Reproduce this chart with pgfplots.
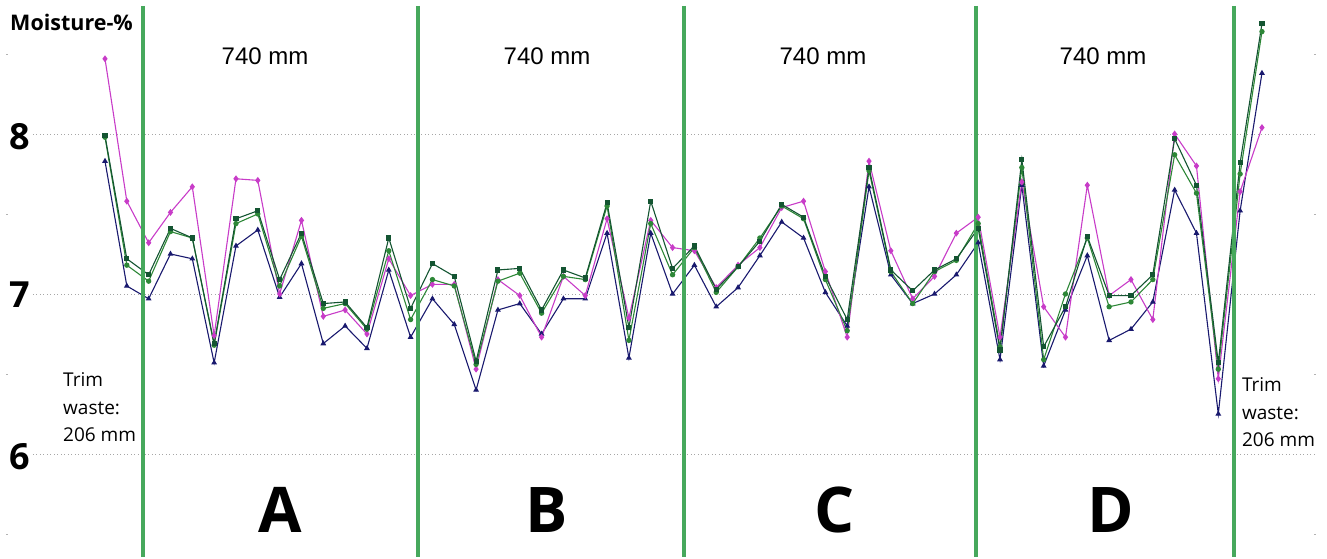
\documentclass[border=0pt]{standalone}
\usepackage{pgfplots}
\usepackage{pgfplotstable}
\pgfplotsset{compat=1.18}
\usepackage{fontspec}
\setmainfont{Open Sans}
\newfontfamily\arialf{Liberation Sans}
\definecolor{cmag}{RGB}{200,60,200}
\definecolor{csq}{RGB}{20,85,50}
\definecolor{ccirc}{RGB}{45,135,55}
\definecolor{cnav}{RGB}{25,25,110}
\definecolor{cvl}{RGB}{70,168,92}
\pgfplotstableread{
i mag sq circ nav
0 8.47 7.99 7.98 7.83
1 7.58 7.22 7.18 7.05
2 7.32 7.12 7.08 6.97
3 7.51 7.41 7.39 7.25
4 7.67 7.35 7.35 7.22
5 6.74 6.69 6.68 6.57
6 7.72 7.47 7.44 7.30
7 7.71 7.52 7.50 7.40
8 7.00 7.09 7.05 6.98
9 7.46 7.38 7.36 7.19
10 6.86 6.94 6.91 6.69
11 6.90 6.95 6.94 6.80
12 6.75 6.79 6.78 6.66
13 7.22 7.35 7.27 7.15
14 6.99 6.91 6.84 6.73
15 7.06 7.19 7.09 6.97
16 7.06 7.11 7.05 6.81
17 6.53 6.58 6.56 6.40
18 7.09 7.15 7.08 6.90
19 6.99 7.16 7.13 6.94
20 6.73 6.90 6.88 6.75
21 7.11 7.15 7.11 6.97
22 6.99 7.10 7.09 6.97
23 7.47 7.57 7.55 7.38
24 6.85 6.79 6.71 6.60
25 7.46 7.58 7.44 7.38
26 7.29 7.16 7.12 7.00
27 7.27 7.30 7.29 7.18
28 7.04 7.03 7.01 6.92
29 7.18 7.17 7.17 7.04
30 7.29 7.33 7.35 7.24
31 7.54 7.56 7.55 7.45
32 7.58 7.48 7.47 7.35
33 7.14 7.11 7.09 7.01
34 6.73 6.84 6.77 6.80
35 7.83 7.79 7.77 7.67
36 7.27 7.15 7.14 7.12
37 6.97 7.02 6.94 6.94
38 7.11 7.15 7.14 7.00
39 7.38 7.22 7.21 7.12
40 7.48 7.41 7.44 7.32
41 6.73 6.65 6.67 6.59
42 7.70 7.84 7.79 7.68
43 6.92 6.67 6.59 6.55
44 6.73 6.92 7.00 6.90
45 7.68 7.36 7.35 7.24
46 6.99 6.99 6.92 6.71
47 7.09 6.99 6.95 6.78
48 6.84 7.12 7.09 6.95
49 8.00 7.97 7.87 7.65
50 7.80 7.68 7.63 7.38
51 6.47 6.57 6.53 6.25
52 7.64 7.82 7.75 7.52
53 8.04 8.69 8.64 8.38
}\moist
\begin{document}
\begin{tikzpicture}
\begin{axis}[
  width=1327pt, height=557pt, scale only axis,
  xmin=-4.81, xmax=55.98, ymin=5.356, ymax=8.8375,
  axis lines=none, clip=false,
]
\path (rel axis cs:0,0) rectangle (rel axis cs:1,1);
% grid lines
\foreach \yy in {6,7,8}{
  \edef\tmp{\noexpand\draw[gray!70, line width=0.9pt, dash pattern=on 0.9pt off 2.6pt] (axis cs:-3.30,\yy) -- (axis cs:55.47,\yy);}\tmp
}
\foreach \yy in {5.5,6.5,7.5,8.5}{
  \edef\tmp{\noexpand\draw[gray!60, line width=0.9pt] (axis cs:-4.52,\yy) -- (axis cs:-4.44,\yy); \noexpand\draw[gray!60, line width=0.9pt] (axis cs:55.40,\yy) -- (axis cs:55.48,\yy);}\tmp
}
% data
\addplot[cnav, line width=1.1pt, mark=triangle*, mark size=2.3pt, mark options={solid}] table[x=i, y=nav] {\moist};
\addplot[cmag, line width=1.1pt, mark=diamond*, mark size=2.6pt, mark options={solid}] table[x=i, y=mag] {\moist};
\addplot[ccirc, line width=1.1pt, mark=*, mark size=2.1pt, mark options={solid}] table[x=i, y=circ] {\moist};
\addplot[csq, line width=1.1pt, mark=square*, mark size=2.0pt, mark options={solid}] table[x=i, y=sq] {\moist};
% vertical section lines
\foreach \xx in {1.754,14.35,26.52,39.90,51.72}{
  \edef\tmp{\noexpand\draw[cvl, line width=3.6pt] (axis cs:\xx,8.80) -- (axis cs:\xx,5.356);}\tmp
}
% texts
\node[anchor=west, inner sep=0pt, font=\bfseries\fontsize{21.5}{21.5}\selectfont] at (axis cs:-4.35,8.70) {Moisture-\%};
\node[anchor=base west, inner sep=0pt, font=\bfseries\fontsize{36}{36}\selectfont] at (axis cs:-4.40,7.90) {8};
\node[anchor=base west, inner sep=0pt, font=\bfseries\fontsize{36}{36}\selectfont] at (axis cs:-4.40,6.9125) {7};
\node[anchor=base west, inner sep=0pt, font=\bfseries\fontsize{36}{36}\selectfont] at (axis cs:-4.40,5.90) {6};
\foreach \xx in {7.33,20.25,32.89,45.72}{
  \edef\tmp{\noexpand\node[font=\noexpand\arialf\noexpand\fontsize{24}{24}\noexpand\selectfont] at (axis cs:\xx,8.4875) {740 mm};}\tmp
}
\node[anchor=base, inner sep=0pt, font=\bfseries\fontsize{63}{63}\selectfont] at (axis cs:8.02,5.506) {A};
\node[anchor=base, inner sep=0pt, font=\bfseries\fontsize{63}{63}\selectfont] at (axis cs:20.25,5.506) {B};
\node[anchor=base, inner sep=0pt, font=\bfseries\fontsize{63}{63}\selectfont] at (axis cs:33.44,5.506) {C};
\node[anchor=base, inner sep=0pt, font=\bfseries\fontsize{63}{63}\selectfont] at (axis cs:46.08,5.506) {D};
\node[anchor=base west, inner sep=0pt, font=\fontsize{19}{19}\selectfont] at (axis cs:-1.924,6.419) {Trim};
\node[anchor=base west, inner sep=0pt, font=\fontsize{19}{19}\selectfont] at (axis cs:-1.924,6.244) {waste:};
\node[anchor=base west, inner sep=0pt, font=\fontsize{19}{19}\selectfont] at (axis cs:-1.924,6.075) {206 mm};
\node[anchor=base west, inner sep=0pt, font=\fontsize{19}{19}\selectfont] at (axis cs:52.08,6.3875) {Trim};
\node[anchor=base west, inner sep=0pt, font=\fontsize{19}{19}\selectfont] at (axis cs:52.08,6.2125) {waste:};
\node[anchor=base west, inner sep=0pt, font=\fontsize{19}{19}\selectfont] at (axis cs:52.08,6.044) {206 mm};
\end{axis}
\end{tikzpicture}
\end{document}
